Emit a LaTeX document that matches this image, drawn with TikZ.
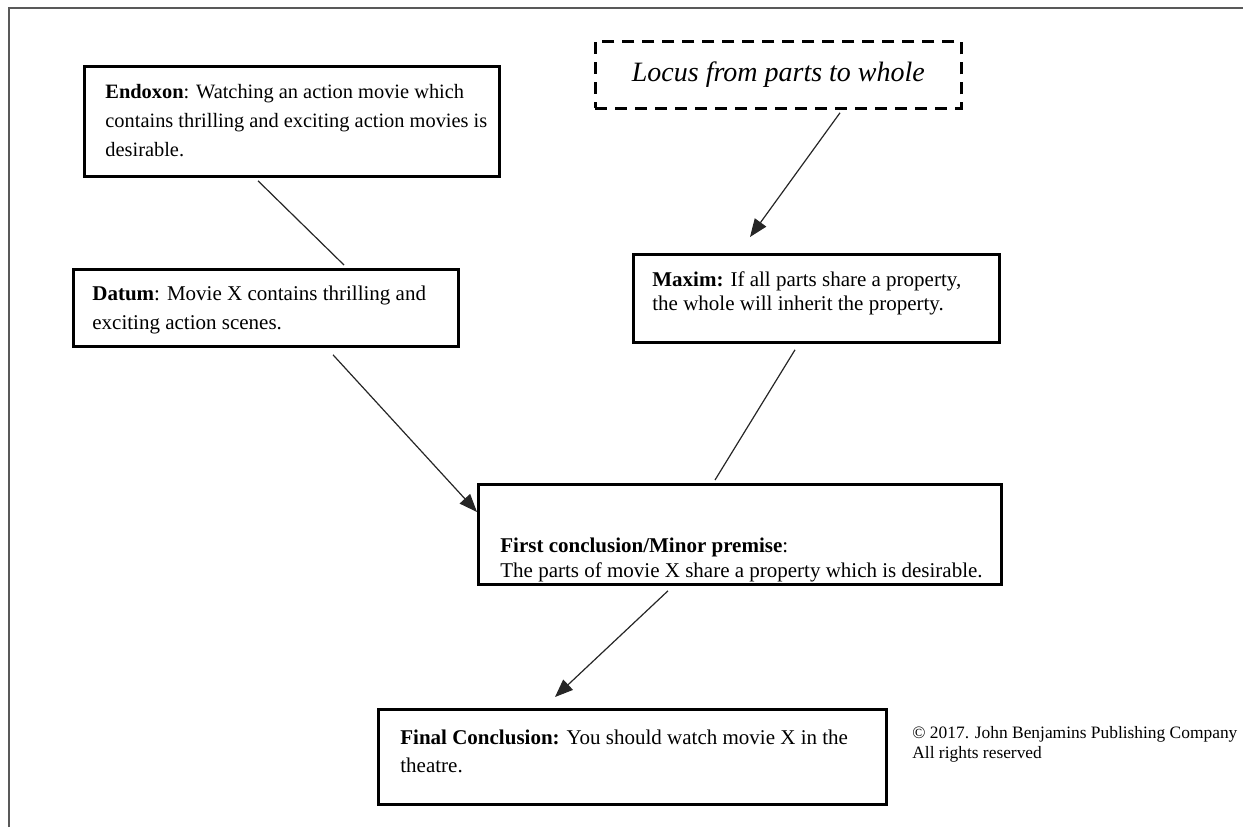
\documentclass[tikz,border=0pt]{standalone}
\usepackage{fontspec}
\setmainfont{Liberation Serif}
\usetikzlibrary{
  arrows.meta,
  calc,
  positioning,
}
\tikzset{
  >={Triangle[length=9pt,width=7pt]},
}

\begin{document}
\begin{tikzpicture}[x=0.5pt,y=-0.5pt,
    argbox/.style={draw,rectangle,line width=1.4pt,anchor=north west,inner sep=0},
    argtext/.style={anchor=west,align=left,inner sep=0,font=\fontsize{10.5}{14.5}\selectfont},
    link/.style={line width=0.6pt,draw=black!85}]
      \useasboundingbox (0,0) rectangle (1243,827);
      \draw[gray!70!black,line width=1pt] (9,827) -- (9,8) -- (1243,8);

      \node[argbox,minimum width=207.5pt,minimum height=55pt] (endoxon) at (83,65) {};
      \node[argbox,dashed,dash pattern=on 6pt off 4pt,minimum width=183pt,minimum height=33.5pt]
        (locus) at (594,40) {};
      \node[argbox,minimum width=192.5pt,minimum height=38.5pt] (datum) at (72,268) {};
      \node[argbox,minimum width=183pt,minimum height=44pt] (maxim) at (632,253) {};
      \node[argbox,minimum width=261.5pt,minimum height=50pt] (first) at (477,483) {};
      \node[argbox,minimum width=254pt,minimum height=47.5pt] (final) at (377,708) {};

      \node[argtext,font=\fontsize{10.2}{14.5}\selectfont] (endoxontext) at ($(endoxon.north west)+(22,56)$)
        {\textbf{Endoxon}: Watching an action movie which\\
         contains thrilling and exciting action movies is\\
         desirable.};
      \node[font=\fontsize{14}{16}\selectfont\itshape] (locustext) at (locus.center)
        {Locus from parts to whole};
      \node[argtext] (datumtext) at ($(datum.north west)+(20,42)$)
        {\textbf{Datum}: Movie X contains thrilling and\\
         exciting action scenes.};
      \node[argtext,font=\fontsize{10.5}{12}\selectfont] (maximtext) at ($(maxim.north west)+(20,40)$)
        {\textbf{Maxim:} If all parts share a property,\\
         the whole will inherit the property.};
      \node[argtext,font=\fontsize{10.5}{12.5}\selectfont] (firsttext) at ($(first.north west)+(23,77)$)
        {\textbf{First conclusion/Minor premise}:\\
         The parts of movie X share a property which is desirable.};
      \node[argtext,font=\fontsize{10.5}{14}\selectfont] (finaltext) at ($(final.north west)+(23,43)$)
        {\textbf{Final Conclusion:} You should watch movie X in the\\
         theatre.};
      \node[argtext,font=\fontsize{8.7}{10}\selectfont] (copyright) at (912,744)
        {© 2017. John Benjamins Publishing Company\\
         All rights reserved};

      % connectors
      \draw[link] ($(endoxon.south west)+(175,3)$) -- ($(datum.north west)+(272,-3)$);
      \draw[link,->] ($(locus.south west)+(246,3)$) -- ($(maxim.north west)+(118,-16)$);
      \draw[link,->] ($(datum.south west)+(261,7)$) -- ($(first.north west)+(0,29)$);
      \draw[link] ($(maxim.south west)+(163,6)$) -- ($(first.north west)+(238,-3)$);
      \draw[link,->] ($(first.south west)+(191,5)$) -- ($(final.north west)+(178,-11)$);
\end{tikzpicture}
\end{document}
